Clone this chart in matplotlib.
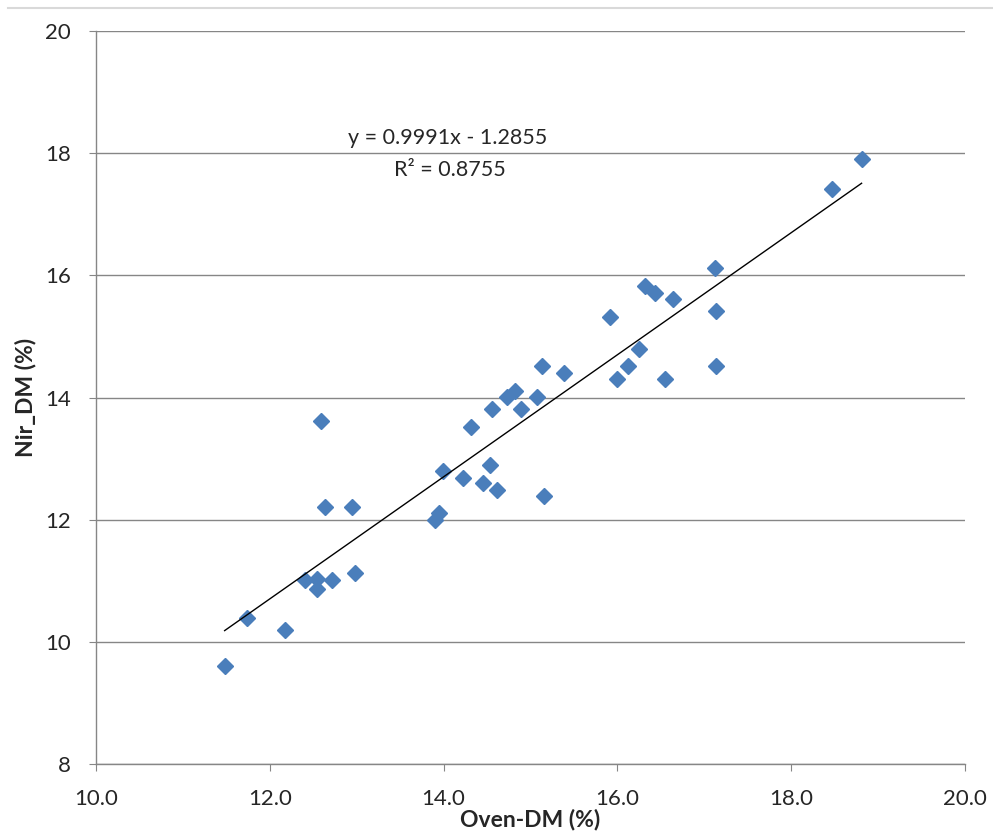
import numpy as np
import matplotlib
matplotlib.use("Agg")
import matplotlib.pyplot as plt
from matplotlib.lines import Line2D

plt.rcParams['font.family'] = ['Lato', 'DejaVu Sans']

# oven dry matter vs NIR dry matter
oven_dm = [11.48, 11.74, 12.17, 12.59, 12.64, 12.95, 12.41, 12.54, 12.54, 12.72,
           12.98, 13.90, 13.95, 13.99, 14.22, 14.45, 14.53, 14.62, 15.15, 14.32,
           14.56, 14.89, 14.73, 14.82, 15.08, 15.13, 15.38, 15.91, 16.00, 16.12,
           16.25, 16.32, 16.43, 16.55, 16.64, 17.12, 17.13, 17.14, 18.47, 18.81]
nir_dm = [9.61, 10.39, 10.20, 13.61, 12.20, 12.20, 11.02, 11.03, 10.87, 11.02,
          11.12, 12.00, 12.11, 12.80, 12.69, 12.60, 12.90, 12.49, 12.39, 13.51,
          13.81, 13.81, 14.01, 14.10, 14.01, 14.51, 14.40, 15.31, 14.30, 14.51,
          14.80, 15.82, 15.71, 14.30, 15.61, 16.12, 15.42, 14.51, 17.41, 17.90]

slope = 0.9991
intercept = -1.2855
r2 = 0.8755

x_ticks = [10.0, 12.0, 14.0, 16.0, 18.0, 20.0]
y_ticks = [8, 10, 12, 14, 16, 18, 20]

grey = '#868686'
blue = '#4A7EBB'
txt = '#262626'

fig = plt.figure(figsize=(9.93, 8.36), dpi=100)
ax = fig.add_axes([0.0967, 0.0861, 0.8751, 0.8768])

ax.plot(oven_dm, nir_dm, ls='none', marker='D', ms=8.5, color=blue,
        markeredgecolor=blue, zorder=3)

x_fit = np.array([min(oven_dm), max(oven_dm)])
ax.plot(x_fit, slope * x_fit + intercept, color='black', lw=1.0, zorder=4)

ax.text(14.05, 18.25, f"y = {slope}x - {-intercept}", ha='center', va='center',
        fontsize=15.5, color=txt)
ax.text(14.07, 17.73, f"R\u00b2 = {r2}", ha='center', va='center',
        fontsize=15.5, color=txt)

ax.set_xlim(10, 20)
ax.set_ylim(8, 20)
ax.set_xticks(x_ticks)
ax.set_xticklabels([f"{t:.1f}" for t in x_ticks])
ax.set_yticks(y_ticks)
ax.yaxis.grid(True, color=grey, lw=1.0)
ax.set_axisbelow(True)

for s in ['top', 'right']:
    ax.spines[s].set_visible(False)
for s in ['left', 'bottom']:
    ax.spines[s].set_color(grey)
    ax.spines[s].set_linewidth(1.0)

ax.tick_params(axis='x', direction='out', length=5, color=grey, pad=13,
               labelsize=16, labelcolor=txt)
ax.tick_params(axis='y', direction='out', length=5, color=grey, pad=13,
               labelsize=16, labelcolor=txt)

ax.set_xlabel('Oven-DM (%)', fontsize=16.5, fontweight='bold', labelpad=0,
              color=txt)
ax.set_ylabel('Nir_DM (%)', fontsize=16.5, fontweight='bold', labelpad=6,
              color=txt)

# chart frame line at the very top
fig.add_artist(Line2D([8 / 993, 1.0], [1 - 8 / 836, 1 - 8 / 836],
                      color='#d9d9d9', lw=1.5))

fig.savefig('out.png', dpi=100)
